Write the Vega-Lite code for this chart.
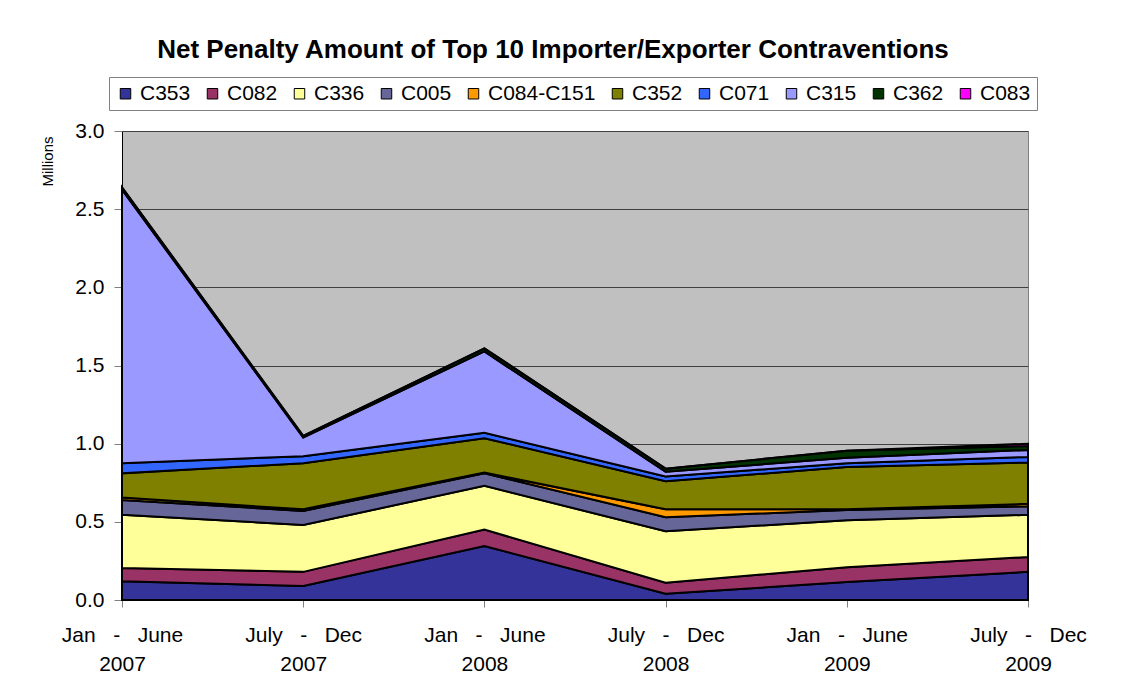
{
  "$schema": "https://vega.github.io/schema/vega-lite/v6.json",
  "width": 906,
  "height": 469,
  "autosize": "none",
  "padding": {"left": 122, "top": 131, "right": 102, "bottom": 100},
  "background": "white",
  "config": {
    "font": "Liberation Sans",
    "view": {"fill": "#C0C0C0", "stroke": "#808080", "strokeWidth": 1}
  },
  "title": {
    "text": "Net Penalty Amount of Top 10 Importer/Exporter Contraventions",
    "fontSize": 26,
    "fontWeight": "bold",
    "font": "Liberation Sans",
    "color": "black",
    "anchor": "middle",
    "dx": -22,
    "offset": 14
  },
  "data": {
    "values": [
      {"period": "Jan   -   June|2007", "series": "C353", "ord": 1, "value": 0.12},
      {"period": "Jan   -   June|2007", "series": "C082", "ord": 2, "value": 0.085},
      {"period": "Jan   -   June|2007", "series": "C336", "ord": 3, "value": 0.34},
      {"period": "Jan   -   June|2007", "series": "C005", "ord": 4, "value": 0.095},
      {"period": "Jan   -   June|2007", "series": "C084-C151", "ord": 5, "value": 0.015},
      {"period": "Jan   -   June|2007", "series": "C352", "ord": 6, "value": 0.155},
      {"period": "Jan   -   June|2007", "series": "C071", "ord": 7, "value": 0.065},
      {"period": "Jan   -   June|2007", "series": "C315", "ord": 8, "value": 1.75},
      {"period": "Jan   -   June|2007", "series": "C362", "ord": 9, "value": 0.015},
      {"period": "Jan   -   June|2007", "series": "C083", "ord": 10, "value": 0},
      {"period": "July   -   Dec|2007", "series": "C353", "ord": 1, "value": 0.09},
      {"period": "July   -   Dec|2007", "series": "C082", "ord": 2, "value": 0.09},
      {"period": "July   -   Dec|2007", "series": "C336", "ord": 3, "value": 0.30},
      {"period": "July   -   Dec|2007", "series": "C005", "ord": 4, "value": 0.09},
      {"period": "July   -   Dec|2007", "series": "C084-C151", "ord": 5, "value": 0.01},
      {"period": "July   -   Dec|2007", "series": "C352", "ord": 6, "value": 0.295},
      {"period": "July   -   Dec|2007", "series": "C071", "ord": 7, "value": 0.045},
      {"period": "July   -   Dec|2007", "series": "C315", "ord": 8, "value": 0.12},
      {"period": "July   -   Dec|2007", "series": "C362", "ord": 9, "value": 0.01},
      {"period": "July   -   Dec|2007", "series": "C083", "ord": 10, "value": 0},
      {"period": "Jan   -   June|2008", "series": "C353", "ord": 1, "value": 0.345},
      {"period": "Jan   -   June|2008", "series": "C082", "ord": 2, "value": 0.105},
      {"period": "Jan   -   June|2008", "series": "C336", "ord": 3, "value": 0.28},
      {"period": "Jan   -   June|2008", "series": "C005", "ord": 4, "value": 0.08},
      {"period": "Jan   -   June|2008", "series": "C084-C151", "ord": 5, "value": 0.005},
      {"period": "Jan   -   June|2008", "series": "C352", "ord": 6, "value": 0.22},
      {"period": "Jan   -   June|2008", "series": "C071", "ord": 7, "value": 0.035},
      {"period": "Jan   -   June|2008", "series": "C315", "ord": 8, "value": 0.52},
      {"period": "Jan   -   June|2008", "series": "C362", "ord": 9, "value": 0.02},
      {"period": "Jan   -   June|2008", "series": "C083", "ord": 10, "value": 0},
      {"period": "July   -   Dec|2008", "series": "C353", "ord": 1, "value": 0.04},
      {"period": "July   -   Dec|2008", "series": "C082", "ord": 2, "value": 0.07},
      {"period": "July   -   Dec|2008", "series": "C336", "ord": 3, "value": 0.33},
      {"period": "July   -   Dec|2008", "series": "C005", "ord": 4, "value": 0.09},
      {"period": "July   -   Dec|2008", "series": "C084-C151", "ord": 5, "value": 0.05},
      {"period": "July   -   Dec|2008", "series": "C352", "ord": 6, "value": 0.18},
      {"period": "July   -   Dec|2008", "series": "C071", "ord": 7, "value": 0.03},
      {"period": "July   -   Dec|2008", "series": "C315", "ord": 8, "value": 0.03},
      {"period": "July   -   Dec|2008", "series": "C362", "ord": 9, "value": 0.02},
      {"period": "July   -   Dec|2008", "series": "C083", "ord": 10, "value": 0},
      {"period": "Jan   -   June|2009", "series": "C353", "ord": 1, "value": 0.115},
      {"period": "Jan   -   June|2009", "series": "C082", "ord": 2, "value": 0.095},
      {"period": "Jan   -   June|2009", "series": "C336", "ord": 3, "value": 0.30},
      {"period": "Jan   -   June|2009", "series": "C005", "ord": 4, "value": 0.065},
      {"period": "Jan   -   June|2009", "series": "C084-C151", "ord": 5, "value": 0.005},
      {"period": "Jan   -   June|2009", "series": "C352", "ord": 6, "value": 0.27},
      {"period": "Jan   -   June|2009", "series": "C071", "ord": 7, "value": 0.025},
      {"period": "Jan   -   June|2009", "series": "C315", "ord": 8, "value": 0.035},
      {"period": "Jan   -   June|2009", "series": "C362", "ord": 9, "value": 0.045},
      {"period": "Jan   -   June|2009", "series": "C083", "ord": 10, "value": 0},
      {"period": "July   -   Dec|2009", "series": "C353", "ord": 1, "value": 0.18},
      {"period": "July   -   Dec|2009", "series": "C082", "ord": 2, "value": 0.095},
      {"period": "July   -   Dec|2009", "series": "C336", "ord": 3, "value": 0.27},
      {"period": "July   -   Dec|2009", "series": "C005", "ord": 4, "value": 0.055},
      {"period": "July   -   Dec|2009", "series": "C084-C151", "ord": 5, "value": 0.015},
      {"period": "July   -   Dec|2009", "series": "C352", "ord": 6, "value": 0.265},
      {"period": "July   -   Dec|2009", "series": "C071", "ord": 7, "value": 0.035},
      {"period": "July   -   Dec|2009", "series": "C315", "ord": 8, "value": 0.045},
      {"period": "July   -   Dec|2009", "series": "C362", "ord": 9, "value": 0.025},
      {"period": "July   -   Dec|2009", "series": "C083", "ord": 10, "value": 0.015}
    ]
  },
  "mark": {"type": "area", "stroke": "black", "strokeWidth": 2, "strokeJoin": "miter", "opacity": 1},
  "encoding": {
    "x": {
      "field": "period",
      "type": "ordinal",
      "sort": ["Jan   -   June|2007", "July   -   Dec|2007", "Jan   -   June|2008", "July   -   Dec|2008", "Jan   -   June|2009", "July   -   Dec|2009"],
      "scale": {"type": "point", "padding": 0},
      "axis": {
        "title": null,
        "labelExpr": "split(replace(replace(datum.label, '   -   ', '\u00a0\u00a0\u00a0-\u00a0\u00a0\u00a0'), '   -   ', '\u00a0\u00a0\u00a0-\u00a0\u00a0\u00a0'), '|')",
        "labelAngle": 0,
        "labelFontSize": 21,
        "labelLineHeight": 29,
        "labelColor": "black",
        "labelPadding": 17,
        "tickSize": 7,
        "tickColor": "#808080",
        "domainColor": "black",
        "domainWidth": 1,
        "grid": false
      }
    },
    "y": {
      "field": "value",
      "type": "quantitative",
      "aggregate": "sum",
      "stack": "zero",
      "scale": {"domain": [0, 3], "nice": false},
      "axis": {
        "title": "Millions",
        "titleFontSize": 15,
        "titleFontWeight": "normal",
        "titleColor": "black",
        "titleAngle": -90,
        "titleX": -75,
        "titleY": 30,
        "titleAlign": "center",
        "titleBaseline": "middle",
        "values": [0, 0.5, 1, 1.5, 2, 2.5, 3],
        "format": ".1f",
        "labelFontSize": 21,
        "labelColor": "black",
        "labelPadding": 10,
        "tickSize": 8,
        "tickColor": "#808080",
        "domainColor": "black",
        "grid": true,
        "gridColor": "#404040",
        "gridWidth": 1
      }
    },
    "color": {
      "field": "series",
      "type": "nominal",
      "scale": {
        "domain": ["C353", "C082", "C336", "C005", "C084-C151", "C352", "C071", "C315", "C362", "C083"],
        "range": ["#333399", "#993366", "#FFFF99", "#666699", "#FF9900", "#808000", "#3366FF", "#9999FF", "#003300", "#FF00FF"]
      },
      "legend": {
        "title": null,
        "orient": "none",
        "direction": "horizontal",
        "legendX": -13,
        "legendY": -54,
        "symbolType": "square",
        "symbolSize": 110,
        "symbolStrokeColor": "black",
        "symbolStrokeWidth": 1,
        "symbolOpacity": 1,
        "labelFontSize": 21,
        "labelColor": "black",
        "labelOffset": 4,
        "columnPadding": 11,
        "padding": 6,
        "strokeColor": "#808080",
        "fillColor": "white"
      }
    },
    "order": {"field": "ord", "type": "quantitative"}
  }
}
